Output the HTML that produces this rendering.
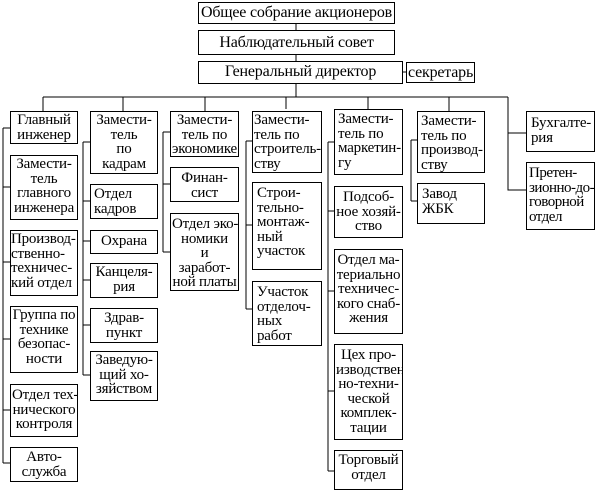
<!DOCTYPE html>
<html><head><meta charset="utf-8"><style>
body{margin:0;width:600px;height:491px;background:#fff;position:relative;overflow:hidden;font-family:"Liberation Serif",serif;}
.b{position:absolute;border:1px solid #000;box-sizing:border-box;font-size:15px;line-height:14.6px;white-space:pre;color:#000;padding:1px 1px 0 1px;overflow:hidden;letter-spacing:-0.2px}
.c{text-align:center}
.t{font-size:16px;line-height:18px;text-align:center;padding-top:1px}
svg{position:absolute;left:0;top:0}
</style></head><body>
<svg width="600" height="491" stroke="#000" stroke-width="1" fill="none" shape-rendering="crispEdges">
<path d="M296 23V30M296 54V61M296 83V97M402 72H406"/>
<path d="M43 97H508M43 97V111M123 97V111M205 97V111M286 97V109M368 97V109M449 97V111M508 97V190H526M508 133H526"/>
<path d="M3 128V463M3 128H10M3 187H10M3 262H10M3 339H10M3 410H10M3 463H10"/>
<path d="M83 142V375M83 142H90M83 201H90M83 241H90M83 280H90M83 325H90M83 375H90"/>
<path d="M163 132V252M163 132H170M163 184H170M163 252H170"/>
<path d="M246 141V309M246 141H252M246 225H252M246 309H252"/>
<path d="M328 142V471M328 142H334M328 211H334M328 291H334M328 391H334M328 471H334"/>
<path d="M411 140V201M411 140H417M411 201H417"/>
</svg>
<div class="b t" style="left:198px;top:2px;width:197px;height:22px">Общее собрание акционеров</div>
<div class="b t" style="left:198px;top:30px;width:197px;height:25px;padding-top:3px">Наблюдательный совет</div>
<div class="b t" style="left:198px;top:61px;width:205px;height:23px">Генеральный директор</div>
<div class="b t" style="left:406px;top:62px;width:69px;height:21px">секретарь</div>

<div class="b c" style="left:10px;top:111px;width:68px;height:33px">Главный
инженер</div>
<div class="b c" style="left:10px;top:155px;width:68px;height:65px">Замести-
тель
главного
инженера</div>
<div class="b" style="left:10px;top:230px;width:68px;height:66px;padding-left:0">Производ-
ственно-
техничес-
кий отдел</div>
<div class="b c" style="left:10px;top:306px;width:68px;height:67px">Группа по
технике
безопас-
ности</div>
<div class="b c" style="left:10px;top:384px;width:68px;height:53px;padding-top:3px">Отдел тех-
нического
контроля</div>
<div class="b c" style="left:10px;top:447px;width:68px;height:35px;padding-top:2px">Авто-
служба</div>

<div class="b c" style="left:90px;top:111px;width:68px;height:63px">Замести-
тель
по
кадрам</div>
<div class="b" style="left:90px;top:184px;width:68px;height:35px;padding:2px 3px">Отдел
кадров</div>
<div class="b c" style="left:90px;top:230px;width:68px;height:24px;padding-top:3px">Охрана</div>
<div class="b c" style="left:90px;top:263px;width:68px;height:35px">Канцеля-
рия</div>
<div class="b c" style="left:90px;top:308px;width:68px;height:35px;padding-top:2px">Здрав-
пункт</div>
<div class="b c" style="left:90px;top:351px;width:68px;height:50px">Заведую-
щий хо-
зяйством</div>

<div class="b c" style="left:170px;top:111px;width:69px;height:46px">Замести-
тель по
экономике</div>
<div class="b c" style="left:170px;top:167px;width:69px;height:35px;padding-top:3px">Финан-
сист</div>
<div class="b c" style="left:170px;top:213px;width:69px;height:78px;padding-top:3px">Отдел эко-
номики
и
заработ-
ной платы</div>

<div class="b" style="left:252px;top:111px;width:70px;height:62px">Замести-
тель по
строитель-
ству</div>
<div class="b" style="left:252px;top:182px;width:70px;height:88px;padding:3px 4px">Строи-
тельно-
монтаж-
ный
участок</div>
<div class="b" style="left:252px;top:281px;width:70px;height:65px;padding:3px 4px">Участок
отделоч-
ных
работ</div>

<div class="b" style="left:334px;top:109px;width:69px;height:66px;padding:2px 3px">Замести-
тель по
маркетин-
гу</div>
<div class="b c" style="left:334px;top:186px;width:69px;height:52px;padding-top:3px">Подсоб-
ное хозяй-
ство</div>
<div class="b c" style="left:334px;top:249px;width:69px;height:85px;padding-top:3px">Отдел ма-
териально
техничес-
кого снаб-
жения</div>
<div class="b c" style="left:334px;top:344px;width:69px;height:96px;padding-top:3px">Цех про-
изводствен-
но-техни-
ческой
комплек-
тации</div>
<div class="b c" style="left:334px;top:450px;width:69px;height:40px;padding-top:2px">Торговый
отдел</div>

<div class="b" style="left:417px;top:111px;width:68px;height:62px;padding:2px 3px">Замести-
тель по
производ-
ству</div>
<div class="b" style="left:417px;top:183px;width:68px;height:41px;padding:3px 4px">Завод
ЖБК</div>

<div class="b" style="left:526px;top:111px;width:69px;height:41px;padding:4px 4px">Бухгалте-
рия</div>
<div class="b" style="left:526px;top:162px;width:69px;height:68px;padding:3px 2px;letter-spacing:-0.5px">Претен-
зионно-до-
говорной
отдел</div>
</body></html>
